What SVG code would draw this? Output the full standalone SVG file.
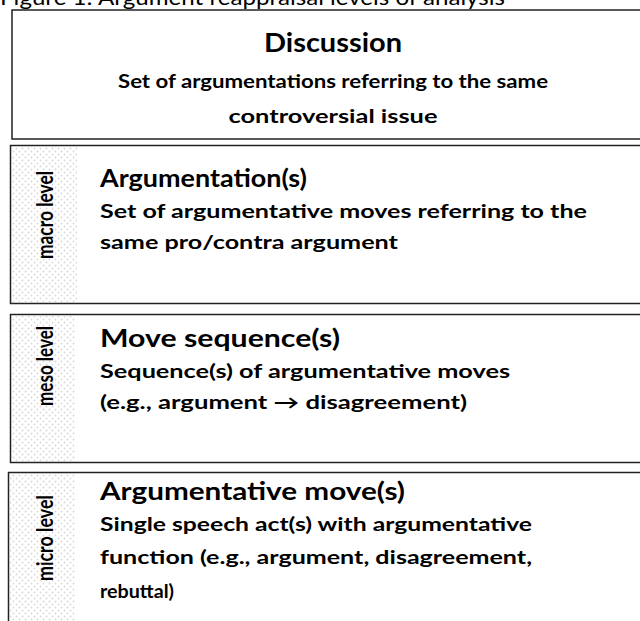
<svg xmlns="http://www.w3.org/2000/svg" width="640" height="621" viewBox="0 0 640 621">
<defs>
<pattern id="dots" width="6" height="6" patternUnits="userSpaceOnUse">
<rect width="6" height="6" fill="#ffffff"/>
<circle cx="1.5" cy="1.5" r="0.9" fill="#d8d8d8"/>
<circle cx="4.5" cy="4.5" r="0.9" fill="#d8d8d8"/>
</pattern>
</defs>
<style>
text{font-family:Lato,"Liberation Sans",sans-serif;fill:#000}
.cap{font-size:21px;font-weight:400}
.t1{font-size:27px;font-weight:700}
.t{font-size:24px;font-weight:700}
.s{font-size:19px;font-weight:700}
.lv{font-size:18px;font-weight:700}
.box{fill:#fff;stroke:#222;stroke-width:1.5}
.strip{fill:url(#dots);stroke:none}
</style>
<rect width="640" height="621" fill="#fff"/>
<text class="cap" x="0" y="5" textLength="505" lengthAdjust="spacingAndGlyphs">Figure 1: Argument reappraisal levels of analysis</text>
<g id="discussion">
<rect class="box" x="12" y="10" width="660" height="129"/>
<text class="t1" x="333" y="52" text-anchor="middle" textLength="138" lengthAdjust="spacingAndGlyphs">Discussion</text>
<text class="s" x="333" y="88" text-anchor="middle" textLength="430" lengthAdjust="spacingAndGlyphs">Set of argumentations referring to the same</text>
<text class="s" x="333" y="123" text-anchor="middle" textLength="209" lengthAdjust="spacingAndGlyphs">controversial issue</text>
</g>
<g id="macro">
<rect class="box" x="10.5" y="145.5" width="660" height="158" stroke="#444"/>
<rect class="strip" x="12" y="147" width="65" height="155"/>
<text class="lv" transform="translate(53,215) rotate(-90) scale(1,1.25)" text-anchor="middle" textLength="88" lengthAdjust="spacingAndGlyphs">macro level</text>
<text class="t" x="100" y="187" textLength="207" lengthAdjust="spacingAndGlyphs">Argumentation(s)</text>
<text class="s" x="100" y="218" textLength="487" lengthAdjust="spacingAndGlyphs">Set of argumentative moves referring to the</text>
<text class="s" x="100" y="249" textLength="298" lengthAdjust="spacingAndGlyphs">same pro/contra argument</text>
</g>
<g id="meso">
<rect class="box" x="10.5" y="314.5" width="660" height="148"/>
<rect class="strip" x="12" y="316" width="63" height="145"/>
<text class="lv" transform="translate(53,366) rotate(-90) scale(1,1.25)" text-anchor="middle" textLength="80" lengthAdjust="spacingAndGlyphs">meso level</text>
<text class="t" x="100" y="347" textLength="240" lengthAdjust="spacingAndGlyphs">Move sequence(s)</text>
<text class="s" x="100" y="378" textLength="410" lengthAdjust="spacingAndGlyphs">Sequence(s) of argumentative moves</text>
<text class="s" x="100" y="409" textLength="367" lengthAdjust="spacingAndGlyphs">(e.g., argument → disagreement)</text>
</g>
<g id="micro">
<rect class="box" x="8.5" y="472.5" width="660" height="160" stroke="#444"/>
<rect class="strip" x="10" y="474" width="65" height="150"/>
<text class="lv" transform="translate(53,538) rotate(-90) scale(1,1.25)" text-anchor="middle" textLength="86" lengthAdjust="spacingAndGlyphs">micro level</text>
<text class="t" x="100" y="500" textLength="305" lengthAdjust="spacingAndGlyphs">Argumentative move(s)</text>
<text class="s" x="100" y="531" textLength="432" lengthAdjust="spacingAndGlyphs">Single speech act(s) with argumentative</text>
<text class="s" x="100" y="564" textLength="432" lengthAdjust="spacingAndGlyphs">function (e.g., argument, disagreement,</text>
<text class="s" x="100" y="598" textLength="74" lengthAdjust="spacingAndGlyphs">rebuttal)</text>
</g>
<g id="connectors"/>
</svg>
